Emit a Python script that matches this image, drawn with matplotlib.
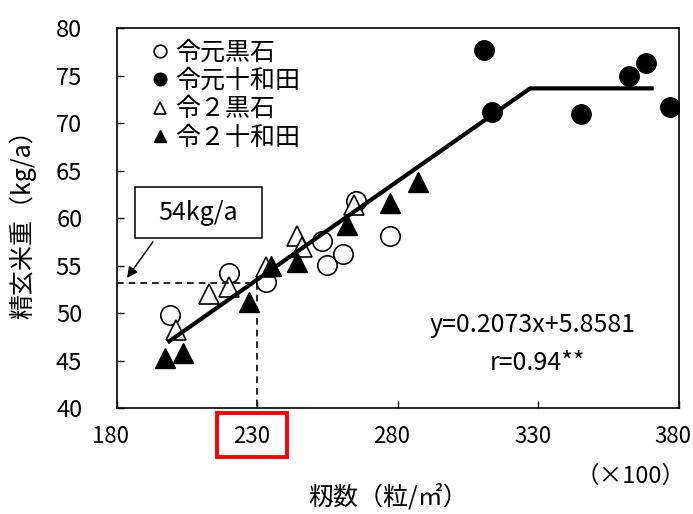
import matplotlib
matplotlib.use("Agg")
import matplotlib.pyplot as plt
from matplotlib.patches import Rectangle
from matplotlib.transforms import ScaledTranslation

plt.rcParams['font.family'] = ['Noto Sans CJK JP', 'DejaVu Sans']
plt.rcParams['axes.unicode_minus'] = False

# --- data (籾数 x100 粒/㎡, 精玄米重 kg/a) ---
r1_kuroishi_x = [198.7, 220.0, 233.2, 252.8, 254.7, 260.4, 265.2, 277.2]
r1_kuroishi_y = [49.8, 54.2, 53.3, 57.6, 55.1, 56.2, 61.8, 58.1]

r1_towada_x = [310.6, 313.5, 345.1, 362.2, 368.3, 376.8]
r1_towada_y = [77.7, 71.2, 71.0, 74.9, 76.3, 71.7]

r2_kuroishi_x = [201.0, 212.8, 220.0, 233.2, 244.0, 245.8, 264.4]
r2_kuroishi_y = [48.2, 52.0, 52.7, 54.8, 58.1, 56.9, 61.4]

r2_towada_x = [197.1, 203.5, 227.0, 234.8, 244.0, 261.9, 277.2, 287.1]
r2_towada_y = [45.3, 45.8, 51.2, 54.9, 55.4, 59.3, 61.6, 63.8]

labels = ['令元黒石', '令元十和田', '令２黒石', '令２十和田']

# regression y = a*x + b, then plateau
SLOPE = 0.2073
INTERCEPT = 5.8581
fit_x = [198, 327, 371]
TARGET_X = 230
TARGET_Y = 53.2

xticks = [180, 230, 280, 330, 380]
yticks = [40, 45, 50, 55, 60, 65, 70, 75, 80]

# --- figure ---
fig = plt.figure(figsize=(6.93, 5.14), dpi=100)
ax = fig.add_axes([0.1688, 0.2062, 0.811, 0.7393])

ms = 14
h1, = ax.plot(r1_kuroishi_x, r1_kuroishi_y, 'o', ms=ms, mfc='white', mec='black', mew=1.2, zorder=2)
h2, = ax.plot(r1_towada_x, r1_towada_y, 'o', ms=ms, mfc='black', mec='black', zorder=2)
h3, = ax.plot(r2_kuroishi_x, r2_kuroishi_y, '^', ms=ms, mfc='white', mec='black', mew=1.2, zorder=2)
h4, = ax.plot(r2_towada_x, r2_towada_y, '^', ms=ms, mfc='black', mec='black', zorder=2)

knee_y = SLOPE * fit_x[1] + INTERCEPT
fit_y = [SLOPE * fit_x[0] + INTERCEPT, knee_y, knee_y]
ax.plot(fit_x, fit_y, color='black', lw=3, solid_capstyle='butt', zorder=4)

# dashed guide lines at 230
ax.plot([180, TARGET_X], [TARGET_Y, TARGET_Y], color='black', lw=1.2, ls=(0, (4, 3)), zorder=3)
ax.plot([TARGET_X, TARGET_X], [TARGET_Y, 40], color='black', lw=1.2, ls=(0, (4, 3)), zorder=3)

# 54kg/a callout
ax.add_patch(Rectangle((186.4, 57.9), 45.1, 5.4, facecolor='white', edgecolor='black', lw=1.1, zorder=5))
ax.text(208.8, 60.5, '54kg/a', ha='center', va='center', fontsize=18, zorder=6)
ax.annotate('', xy=(183.6, 53.7), xytext=(192.8, 57.5),
            arrowprops=dict(arrowstyle='-|>', color='black', lw=1.0, mutation_scale=16, shrinkA=0, shrinkB=0))

ax.text(328, 48.7, 'y=0.2073x+5.8581', ha='center', va='center', fontsize=18)
ax.text(329.5, 44.7, 'r=0.94**', ha='center', va='center', fontsize=18)

ax.set_xlim(180, 380)
ax.set_ylim(40, 80)
ax.set_xticks(xticks)
ax.set_yticks(yticks)
ax.tick_params(direction='in', length=5, width=1.0, labelsize=17, top=False, right=False)
ax.tick_params(axis='y', pad=25)
ax.tick_params(axis='x', pad=12, labelsize=16)
for sp in ax.spines.values():
    sp.set_linewidth(1.2)

# x tick labels sit a little left of their ticks in the original
shift = ScaledTranslation(-6 / 100, 0, fig.dpi_scale_trans)
for lab in ax.get_xticklabels():
    lab.set_transform(lab.get_transform() + shift)

ax.set_xlabel('籾数（粒/㎡）', fontsize=18)
ax.xaxis.set_label_coords(0.482, -0.2)
ax.set_ylabel('精玄米重（kg/a）', fontsize=18)
ax.yaxis.set_label_coords(-0.144, 0.5)

ax.text(0.913, -0.179, '（×100）', transform=ax.transAxes, ha='center', va='center', fontsize=17)

# red highlight around 230 label
ax.add_patch(Rectangle((0.178, -0.128), 0.125, 0.115, transform=ax.transAxes, fill=False,
                       edgecolor='#ff0000', lw=2.8, clip_on=False))

ax.legend([h1, h2, h3, h4], labels, loc='upper left', bbox_to_anchor=(0.063, 0.97),
          frameon=False, fontsize=18, markerscale=0.65, handlelength=0.6, handletextpad=0.3,
          labelspacing=0.1, borderpad=0, borderaxespad=0)

fig.savefig('out.png', dpi=100)
